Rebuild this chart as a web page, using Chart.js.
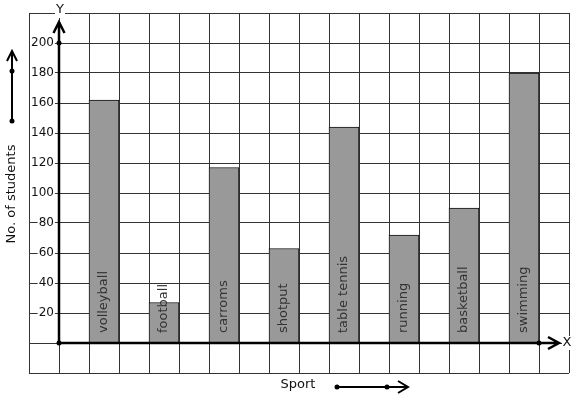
<!DOCTYPE html>
<html>
<head>
<meta charset="utf-8">
<script src="https://cdn.jsdelivr.net/npm/chart.js@4.4.0/dist/chart.umd.min.js"></script>
<style>
html, body { margin: 0; padding: 0; background: #fff; }
</style>
</head>
<body>
<canvas id="sport-chart" width="577" height="399"></canvas>
<script>
var sports = ['volleyball', 'football', 'carroms', 'shotput', 'table tennis', 'running', 'basketball', 'swimming'];
var students = [162, 27, 117, 63, 144, 72, 90, 180];
var yTickLabels = [20, 40, 60, 80, 100, 120, 140, 160, 180, 200];
var xTitle = 'Sport';
var yTitle = 'No. of students';

// graph paper has 18 columns, the bars sit in every other one from column 2
var columns = [];
var values = [];
for (var i = 0; i < 18; i++) {
    columns.push('');
    values.push(null);
}
sports.forEach(function(s, i) {
    columns[2 + 2 * i] = s;
    values[2 + 2 * i] = students[i];
});

function dot(ctx, x, y) {
    ctx.beginPath();
    ctx.arc(x, y, 2.5, 0, Math.PI * 2);
    ctx.fill();
}

var axesPlugin = {
    id: 'axes',
    afterDatasetsDraw: function(chart) {
        var ctx = chart.ctx;
        var xs = chart.scales.x, ys = chart.scales.y;
        var ox = xs.getPixelForValue(0.5);
        var oy = ys.getPixelForValue(0);
        var top = ys.getPixelForValue(200);
        var endX = xs.getPixelForValue(16.5);
        ctx.save();

        // labels inside the bars
        ctx.font = '13px "DejaVu Sans"';
        ctx.fillStyle = '#333';
        ctx.textAlign = 'left';
        ctx.textBaseline = 'middle';
        chart.getDatasetMeta(0).data.forEach(function(bar, i) {
            if (!columns[i]) return;
            ctx.save();
            ctx.translate(bar.x, oy - 10);
            ctx.rotate(-Math.PI / 2);
            ctx.fillText(columns[i], 0, 0);
            ctx.restore();
        });

        // X and Y axes with arrows
        ctx.strokeStyle = '#000';
        ctx.fillStyle = '#000';
        ctx.lineWidth = 2.5;
        ctx.beginPath();
        ctx.moveTo(ox, oy);
        ctx.lineTo(ox, 23);
        ctx.moveTo(ox - 5.5, 33);
        ctx.lineTo(ox, 22);
        ctx.lineTo(ox + 5.5, 33);
        ctx.moveTo(ox, oy);
        ctx.lineTo(558, oy);
        ctx.moveTo(548, oy - 6);
        ctx.lineTo(559, oy);
        ctx.lineTo(548, oy + 6);
        ctx.stroke();
        dot(ctx, ox, oy);
        dot(ctx, ox, top);
        dot(ctx, endX, oy);

        ctx.font = '13px "DejaVu Sans"';
        ctx.textAlign = 'center';
        ctx.fillStyle = '#fff';
        ctx.fillRect(ox - 4, 4, 10, 14);
        ctx.fillRect(562, oy - 7, 10, 14);
        ctx.fillStyle = '#111';
        ctx.fillText('Y', ox + 1, 10);
        ctx.fillText('X', 567, oy);

        // axis titles with their arrows
        ctx.fillText(xTitle, 298, 385);
        ctx.save();
        ctx.translate(12, 194);
        ctx.rotate(-Math.PI / 2);
        ctx.fillText(yTitle, 0, 0);
        ctx.restore();

        ctx.lineWidth = 2;
        ctx.fillStyle = '#000';
        ctx.beginPath();
        ctx.moveTo(337, 387);
        ctx.lineTo(407, 387);
        ctx.moveTo(398, 381);
        ctx.lineTo(408, 387);
        ctx.lineTo(398, 393);
        ctx.moveTo(12, 121);
        ctx.lineTo(12, 52);
        ctx.moveTo(7, 61);
        ctx.lineTo(12, 51);
        ctx.lineTo(17, 61);
        ctx.stroke();
        dot(ctx, 337, 387);
        dot(ctx, 387, 387);
        dot(ctx, 12, 121);
        dot(ctx, 12, 71);
        ctx.restore();
    }
};

var sportChart = new Chart(document.getElementById('sport-chart'), {
    type: 'bar',
    data: {
        labels: columns,
        datasets: [{
            data: values,
            backgroundColor: '#999999',
            borderColor: '#111',
            borderWidth: 1,
            barPercentage: 1.0,
            categoryPercentage: 1.0
        }]
    },
    options: {
        responsive: false,
        animation: false,
        layout: { padding: { left: 25, top: 13, right: 8, bottom: 26 } },
        plugins: {
            legend: { display: false },
            tooltip: { enabled: false }
        },
        scales: {
            x: {
                grid: { color: '#333', drawTicks: false, offset: true },
                border: { display: false },
                ticks: { display: false }
            },
            y: {
                min: -20,
                max: 220,
                grid: { color: '#333', drawTicks: false },
                border: { display: false },
                ticks: {
                    stepSize: 20,
                    mirror: true,
                    crossAlign: 'far',
                    padding: 2,
                    color: '#111',
                    font: { family: 'DejaVu Sans', size: 12 },
                    callback: function(v) {
                        return yTickLabels.indexOf(v) >= 0 ? String(v) : '';
                    },
                    showLabelBackdrop: function(c) {
                        return yTickLabels.indexOf(c.tick.value) >= 0;
                    },
                    backdropColor: '#fff',
                    backdropPadding: { x: 1, y: 0 }
                }
            }
        }
    },
    plugins: [axesPlugin]
});
</script>
</body>
</html>
